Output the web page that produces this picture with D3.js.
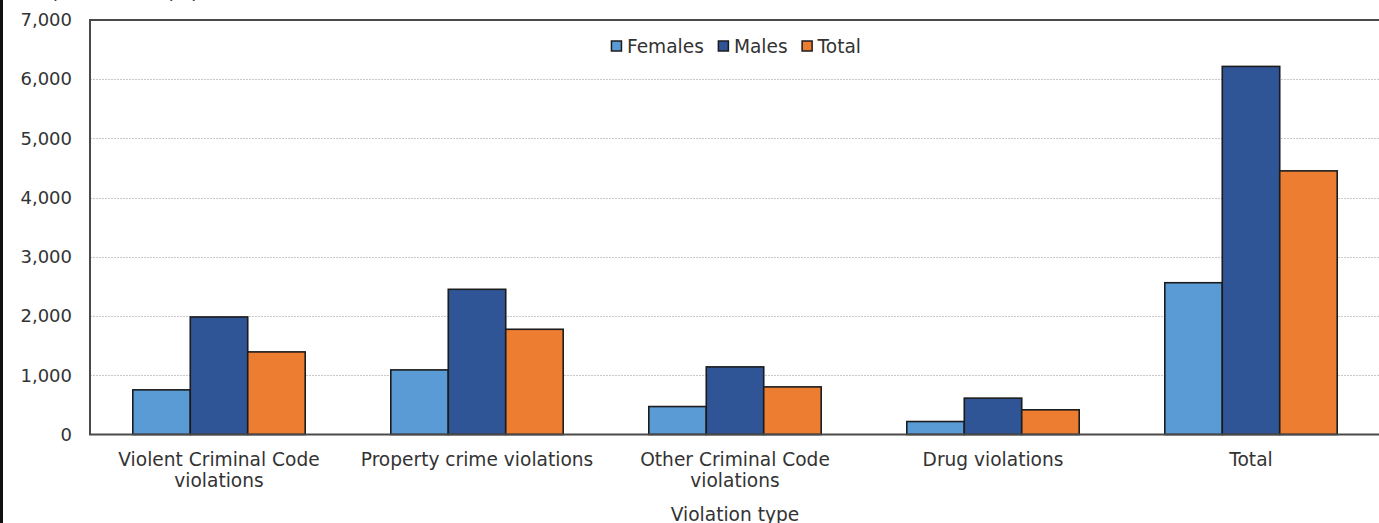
<!DOCTYPE html>
<html><head><meta charset="utf-8">
<script src="https://cdn.jsdelivr.net/npm/d3@7"></script>
<style>
html,body{margin:0;padding:0;background:#fff;overflow:hidden;}
svg{display:block;font-family:Verdana,"DejaVu Sans",sans-serif;}
</style></head>
<body>
<svg id="chart" width="1379" height="523"></svg>
<script>
const categories = ["Violent Criminal Code violations","Property crime violations","Other Criminal Code violations","Drug violations","Total"];
const seriesNames = ["Females","Males","Total"];
const females = [754, 1091, 472, 219, 2563];
const males = [1985, 2452, 1142, 614, 6216];
const totals = [1395, 1777, 804, 417, 4452];
const yTicks = [0,1000,2000,3000,4000,5000,6000,7000];
const colors = ["#5b9bd5","#2f5597","#ed7d31"];
const yTitle = "Rate per 100,000 population";
const xTitle = "Violation type";

(function(){
const seriesValues = [females, males, totals];
const svg = d3.select("#chart");
const pLeft = 90, pRight = 1380, pTop = 20, pBottom = 434.5;
const fontSize = 18, labelSize = 18.6, textColor = "#333";

const x0 = d3.scaleBand().domain(categories).range([pLeft, pRight]).paddingInner(0).paddingOuter(0);
const x1 = d3.scaleBand().domain(seriesNames).range([0, x0.bandwidth()]).paddingInner(0).paddingOuter(0.745);
const y = d3.scaleLinear().domain([0, 7000]).range([pBottom, pTop]);

// page frame on left
svg.append("line").attr("x1",1.5).attr("x2",1.5).attr("y1",0).attr("y2",523)
  .attr("stroke","#111").attr("stroke-width",3);

// y title (cut off at top, as in the reference)
svg.append("text").attr("x",6).attr("y",-3).attr("font-size",fontSize).attr("fill",textColor).text(yTitle);

// gridlines
svg.append("g").selectAll("line").data(yTicks.filter(d=>d>0 && d<7000)).join("line")
  .attr("x1",pLeft).attr("x2",1379).attr("y1",d=>Math.round(y(d))+0.5).attr("y2",d=>Math.round(y(d))+0.5)
  .attr("stroke","#c8c8c8").attr("stroke-width",1).attr("stroke-dasharray","2,1");

// y axis
const yAxis = d3.axisLeft(y).tickValues(yTicks).tickSize(0).tickPadding(18).tickFormat(d3.format(","));
const gy = svg.append("g").attr("transform",`translate(${pLeft},0)`).call(yAxis);
gy.select(".domain").remove();
gy.selectAll("text").attr("font-size",fontSize).attr("fill",textColor).attr("font-family","Verdana, 'DejaVu Sans', sans-serif");

// bars
const groups = svg.append("g").selectAll("g").data(categories).join("g")
  .attr("transform",d=>`translate(${x0(d)},0)`);
groups.selectAll("rect").data((c,i)=>seriesNames.map((s,j)=>({s, j, v: seriesValues[j][i]}))).join("rect")
  .attr("x",d=>x1(d.s)).attr("width",x1.bandwidth())
  .attr("y",d=>y(d.v)).attr("height",d=>y(0)-y(d.v))
  .attr("fill",d=>colors[d.j]).attr("stroke","#1c1c1c").attr("stroke-width",1.6);

// frame lines: left, top, bottom
svg.append("line").attr("x1",pLeft).attr("x2",pLeft).attr("y1",pTop).attr("y2",pBottom).attr("stroke","#4a4a4a").attr("stroke-width",2);
svg.append("line").attr("x1",pLeft-1).attr("x2",1379).attr("y1",pTop).attr("y2",pTop).attr("stroke","#4a4a4a").attr("stroke-width",2);
svg.append("line").attr("x1",pLeft-1).attr("x2",1379).attr("y1",pBottom).attr("y2",pBottom).attr("stroke","#4a4a4a").attr("stroke-width",2);

// x axis labels (wrapped)
const xAxis = d3.axisBottom(x0).tickSize(0).tickPadding(0);
const gx = svg.append("g").attr("transform",`translate(0,${pBottom})`).call(xAxis);
gx.select(".domain").remove();
gx.selectAll("text").remove();
gx.selectAll(".tick").each(function(d){
  const g = d3.select(this);
  const t = g.append("text").attr("text-anchor","middle").attr("font-size",labelSize).attr("fill",textColor)
    .attr("font-family","Verdana, 'DejaVu Sans', sans-serif");
  const words = d.split(" ");
  let lines = [], line = [];
  const tmp = t.append("tspan");
  for (const w of words) {
    line.push(w);
    tmp.text(line.join(" "));
    if (tmp.node().getComputedTextLength() > 245 && line.length > 1) {
      line.pop(); lines.push(line.join(" ")); line = [w];
    }
  }
  lines.push(line.join(" "));
  tmp.remove();
  lines.forEach((l,i)=>t.append("tspan").attr("x",0).attr("y",31.5 + i*21).text(l));
});

// x title (bottom cut off, as in the reference)
svg.append("text").attr("x",(pLeft+pRight)/2).attr("y",521).attr("text-anchor","middle")
  .attr("font-size",labelSize).attr("fill",textColor).text(xTitle);

// legend
const legend = svg.append("g");
let lx = 0;
seriesNames.forEach((s,i)=>{
  const g = legend.append("g").attr("transform",`translate(${lx},0)`);
  g.append("rect").attr("x",0.5).attr("y",-5).attr("width",10).attr("height",10)
    .attr("fill",colors[i]).attr("stroke","#1c1c1c").attr("stroke-width",1.5);
  const t = g.append("text").attr("x",16).attr("y",6.5).attr("font-size",labelSize).attr("fill",textColor).text(s);
  lx += 16 + t.node().getComputedTextLength() + 14;
});
const lw = lx - 14;
legend.attr("transform",`translate(${(pLeft+pRight)/2 - lw/2 + 1},46)`);
})();
</script>
</body></html>
